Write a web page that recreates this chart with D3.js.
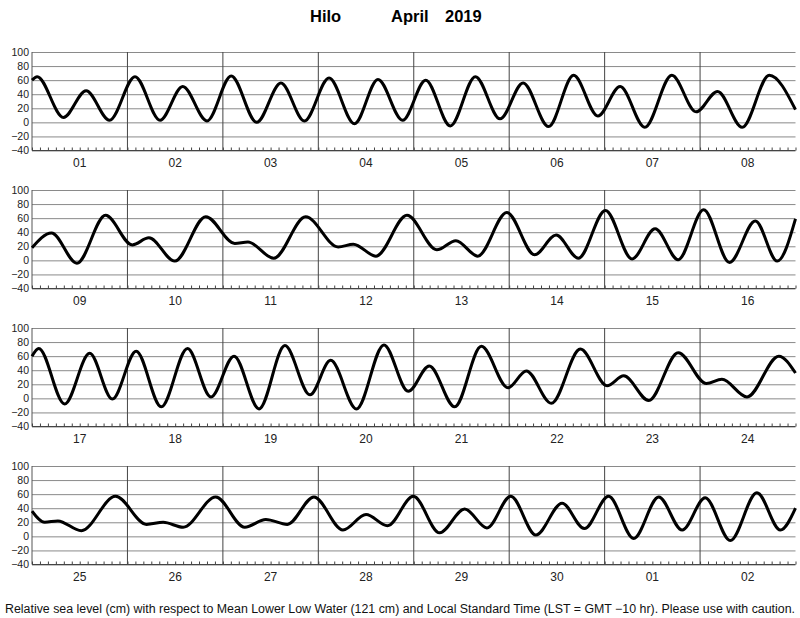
<!DOCTYPE html>
<html>
<head>
<meta charset="utf-8">
<script src="https://cdn.jsdelivr.net/npm/d3@7"></script>
<style>
  html, body { margin: 0; padding: 0; background: #fff; }
  svg { display: block; font-family: "Liberation Sans", Arial, Helvetica, sans-serif; }
</style>
</head>
<body>
<svg id="chart" width="800" height="618"></svg>
<script>
// ---- Data (hours from the start of each 8-day panel, sea level in cm) ----
const titleParts = ["Hilo", "April", "2019"];
const footerText = "Relative sea level (cm) with respect to Mean Lower Low Water (121 cm) and Local Standard Time (LST = GMT \u221210 hr). Please use with caution.";
const yTicks = [-40, -20, 0, 20, 40, 60, 80, 100];

const days1 = ["01", "02", "03", "04", "05", "06", "07", "08"];
const days2 = ["09", "10", "11", "12", "13", "14", "15", "16"];
const days3 = ["17", "18", "19", "20", "21", "22", "23", "24"];
const days4 = ["25", "26", "27", "28", "29", "30", "01", "02"];

const p1Hours  = [0, 1.3, 7.9, 13.6, 19.5, 25.9, 32.2, 37.9, 44.0, 50.1, 56.5, 62.6, 68.5, 74.7, 81.1, 87.0, 93.2, 99.0, 105.2, 111.5, 117.7, 123.5, 129.9, 136.2, 142.3, 147.9, 154.1, 160.9, 167.0, 172.4, 178.6, 185.4, 192];
const p1Levels = [60, 65, 7, 45, 3, 65, 3, 51, 2, 66, 0, 56, 2, 63, -2, 61, 3, 60, -5, 65, 5, 56, -6, 67, 9, 51, -7, 67, 15, 44, -7, 67, 18];

const p2Hours  = [0, 4.9, 11.3, 18.5, 25.2, 29.4, 35.9, 43.7, 51.0, 54.3, 60.8, 68.8, 77.0, 80.8, 86.5, 94.3, 101.8, 106.6, 112.1, 119.4, 126.4, 131.8, 137.4, 144.2, 150.9, 156.7, 162.5, 168.9, 175.4, 181.9, 187.4, 192];
const p2Levels = [18, 39, -4, 64, 22, 32, -1, 62, 24, 26, 3, 62, 19, 23, 6, 64, 15, 28, 6, 68, 8, 36, 3, 71, 2, 45, 1, 72, -3, 56, -1, 59];

const p3Hours  = [0, 1.7, 8.2, 14.5, 20.2, 26.2, 32.5, 39.1, 45.0, 50.8, 57.1, 63.6, 69.9, 75.1, 81.6, 88.5, 94.6, 99.9, 106.3, 113.0, 119.7, 124.3, 130.6, 137.9, 144.6, 148.8, 155.1, 162.5, 169.6, 173.5, 179.8, 187.8, 192];
const p3Levels = [60, 71, -8, 64, -1, 67, -12, 71, 2, 60, -15, 75, 5, 54, -15, 76, 10, 46, -12, 74, 15, 39, -7, 70, 18, 32, -3, 65, 21, 27, 2, 60, 36];

const p4Hours  = [0, 3.2, 6.5, 12.4, 21.0, 28.8, 33.0, 38.0, 46.2, 53.5, 58.8, 64.2, 70.9, 78.2, 84.0, 89.4, 95.9, 102.5, 108.8, 114.4, 120.4, 126.7, 133.3, 138.9, 145.0, 151.3, 157.6, 163.5, 169.3, 175.6, 182.3, 188.2, 192];
const p4Levels = [36, 20, 22, 8, 57, 17, 20, 13, 56, 13, 24, 17, 56, 9, 31, 15, 57, 5, 39, 12, 57, 2, 47, 11, 57, -3, 56, 9, 55, -6, 62, 9, 40];

const panels = [
  { days: days1, hours: p1Hours, levels: p1Levels },
  { days: days2, hours: p2Hours, levels: p2Levels },
  { days: days3, hours: p3Hours, levels: p3Levels },
  { days: days4, hours: p4Hours, levels: p4Levels }
];

// ---- Layout ----
const svg = d3.select("#chart");
const left = 32, right = 795.5;
const panelTops = [52, 190, 328, 466];
const panelH = 98.5;
const totalHours = 192;

svg.append("rect").attr("width", 800).attr("height", 618).attr("fill", "#fff");

// Title
const titleX = [310, 391, 445];
svg.append("g").selectAll("text").data(titleParts).join("text")
  .attr("x", (d, i) => titleX[i]).attr("y", 22)
  .attr("font-size", 16.5).attr("font-weight", "bold").attr("fill", "#000")
  .text(d => d);

panels.forEach((p, pi) => {
  const top = panelTops[pi];
  const x = d3.scaleLinear().domain([0, totalHours]).range([left, right]);
  const y = d3.scaleLinear().domain([-40, 100]).range([top + panelH, top]);
  const g = svg.append("g");

  // horizontal grid + y labels
  const yAxis = d3.axisLeft(y).tickValues(yTicks).tickSize(-(right - left)).tickPadding(3)
    .tickFormat(d => d < 0 ? "\u2212" + Math.abs(d) : String(d));
  const ya = g.append("g").attr("transform", `translate(${left},0)`).call(yAxis);
  ya.select(".domain").remove();
  ya.selectAll(".tick line").attr("stroke", "#8a8a8a").attr("stroke-width", 1);
  ya.selectAll(".tick text").attr("font-size", 10.5).attr("fill", "#222")
    .attr("font-family", "'Liberation Sans', Arial, sans-serif");

  // left frame
  g.append("line").attr("x1", left).attr("x2", left).attr("y1", top).attr("y2", top + panelH)
    .attr("stroke", "#555").attr("stroke-width", 1);
  // bottom frame
  g.append("line").attr("x1", left).attr("x2", right).attr("y1", top + panelH).attr("y2", top + panelH)
    .attr("stroke", "#444").attr("stroke-width", 1);

  // day separators
  const dayBounds = d3.range(1, 8).map(i => i * 24);
  g.append("g").selectAll("line").data(dayBounds).join("line")
    .attr("x1", d => x(d)).attr("x2", d => x(d))
    .attr("y1", top).attr("y2", top + panelH)
    .attr("stroke", "#444").attr("stroke-width", 1);

  // 2-hour ticks along bottom, pointing up
  const xAxis = d3.axisBottom(x).tickValues(d3.range(0, totalHours + 1, 2)).tickSize(-3).tickFormat("");
  const xa = g.append("g").attr("transform", `translate(0,${top + panelH})`).call(xAxis);
  xa.select(".domain").remove();
  xa.selectAll(".tick line").attr("stroke", "#444").attr("stroke-width", 1);

  // day labels
  g.append("g").selectAll("text").data(p.days).join("text")
    .attr("x", (d, i) => x(i * 24 + 12)).attr("y", top + panelH + 16)
    .attr("text-anchor", "middle").attr("font-size", 12).attr("fill", "#222")
    .text(d => d);

  // tide curve
  const pts = p.hours.map((h, i) => [h, p.levels[i]]);
  const line = d3.line().x(d => x(d[0])).y(d => y(d[1])).curve(d3.curveMonotoneX);
  g.append("path").datum(pts).attr("d", line)
    .attr("fill", "none").attr("stroke", "#000").attr("stroke-width", 3)
    .attr("stroke-linejoin", "round").attr("stroke-linecap", "butt");
});

// Footer
svg.append("text").attr("x", 400).attr("y", 613).attr("text-anchor", "middle")
  .attr("font-size", 12).attr("fill", "#111")
  .attr("textLength", 790).attr("lengthAdjust", "spacingAndGlyphs")
  .text(footerText);
</script>
</body>
</html>
